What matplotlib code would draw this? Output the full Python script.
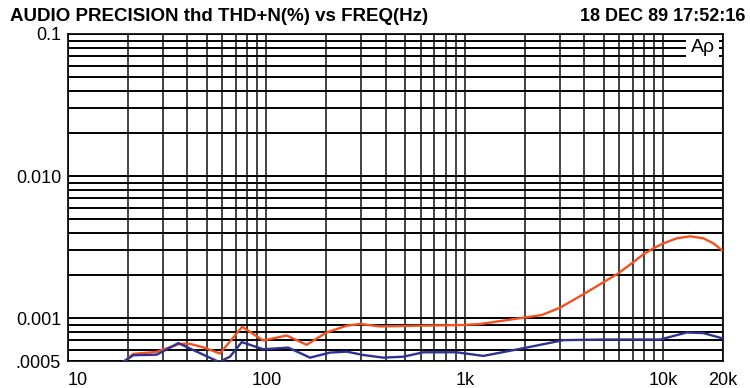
import matplotlib
matplotlib.use('Agg')
import matplotlib.pyplot as plt
import matplotlib.patches as mpatches
from matplotlib.ticker import FixedLocator, NullFormatter, LogLocator
import numpy as np

plt.rcParams['font.family'] = ['Liberation Sans', 'DejaVu Sans']

# readings taken off the plot (Hz, THD+N %)
freq_red = [19.3, 21.3, 28.0, 36.5, 41.2, 47.9, 58.3, 75.5, 96.4, 126.5, 159.5, 201,
            254, 297, 374, 594, 979, 1193, 1972, 2442, 3018, 3954, 4989, 5938,
            6937, 7940, 8914, 10020, 11700, 13650, 15920, 17890, 19720]
thd_red = [0.0005, 0.000561, 0.000580, 0.000660, 0.000660, 0.000625, 0.000565, 0.000870,
           0.000697, 0.000756, 0.000650, 0.000794, 0.000886, 0.000911, 0.000876, 0.000886,
           0.000896, 0.000910, 0.001008, 0.001053, 0.001186, 0.001473, 0.001789, 0.002070,
           0.002433, 0.002817, 0.003103, 0.003365, 0.003650, 0.003770, 0.003650, 0.003365,
           0.003020]

freq_blue = [19.3, 21.3, 28.0, 36.0, 44.5, 57.7, 65.5, 75.1, 96.4, 128.8, 165.9, 209,
             254, 307.6, 388, 490, 618, 909, 1239, 1972, 3137, 4989, 9640, 13140,
             15920, 20000]
thd_blue = [0.0005, 0.000549, 0.000554, 0.000668, 0.000582, 0.000492, 0.000536, 0.000679,
            0.000605, 0.000621, 0.000528, 0.000573, 0.000582, 0.000551, 0.000528, 0.000536,
            0.000576, 0.000576, 0.000543, 0.000615, 0.000701, 0.000708, 0.000708, 0.000794,
            0.000786, 0.000720]

xticks = [10, 100, 1000, 10000, 20000]
xlabels = ['10', '100', '1k', '10k', '20k']
yticks = [0.0005, 0.001, 0.01, 0.1]
ylabels = ['.0005', '0.001', '0.010', '0.1']

fig = plt.figure(figsize=(7.5, 3.88), dpi=100)
ax = fig.add_axes([68/750, 27/388, 655/750, 327/388])

ax.plot(freq_red, thd_red, color='#f4511e', lw=1.7, zorder=3)
ax.plot(freq_blue, thd_blue, color='#2e3192', lw=1.7, zorder=3)

ax.set_xscale('log')
ax.set_yscale('log')
ax.set_xlim(10, 20000)
ax.set_ylim(0.0005, 0.1)

ax.xaxis.set_major_locator(FixedLocator(xticks))
ax.set_xticklabels(xlabels, fontsize=13)
ax.xaxis.set_minor_locator(LogLocator(base=10, subs=np.arange(2, 10)))
ax.xaxis.set_minor_formatter(NullFormatter())
ax.yaxis.set_major_locator(FixedLocator(yticks))
ax.set_yticklabels(ylabels, fontsize=13)
ax.yaxis.set_minor_locator(LogLocator(base=10, subs=np.arange(2, 10)))
ax.yaxis.set_minor_formatter(NullFormatter())
ax.tick_params(which='both', length=0)
ax.tick_params(axis='x', pad=8)
ax.tick_params(axis='y', pad=5)
ax.get_xticklabels()[0].set_horizontalalignment('left')

ax.grid(True, which='both', axis='x', color='#222222', lw=1.2)
ax.grid(True, which='both', axis='y', color='black', lw=1.4)
ax.set_axisbelow(True)
for s in ax.spines.values():
    s.set_color('black')
    s.set_linewidth(1.2)

# white patch behind the Ap logo
ax.add_patch(mpatches.Rectangle((0.944, 0.925), 0.05, 0.072, transform=ax.transAxes,
                                facecolor='white', edgecolor='none', zorder=2))
ax.text(0.969, 0.958, 'A\u03c1', transform=ax.transAxes, fontsize=14,
        ha='center', va='center', zorder=4)

fig.text(10/750, 1 - 21/388, 'AUDIO PRECISION thd THD+N(%) vs FREQ(Hz)',
         fontsize=13.5, fontweight='bold', ha='left', va='baseline')
fig.text(745/750, 1 - 21/388, '18 DEC 89 17:52:16',
         fontsize=13, fontweight='bold', ha='right', va='baseline')

fig.savefig('out.png', dpi=100)
